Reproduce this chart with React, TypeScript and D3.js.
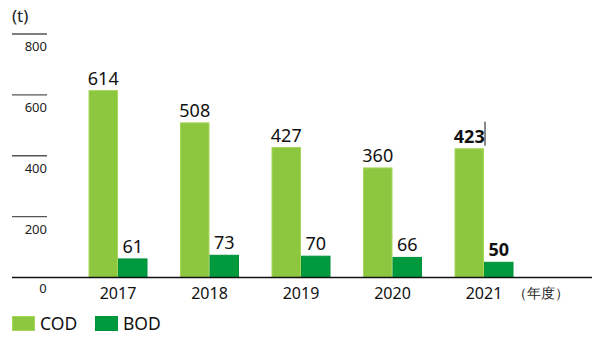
import React from "react";
import * as d3 from "d3";

const years = ["2017", "2018", "2019", "2020", "2021"];
const cod = [614, 508, 427, 360, 423];
const bod = [61, 73, 70, 66, 50];
const series = ["COD", "BOD"];
const yTicks = [200, 400, 600, 800];
const colors = { COD: "#8dc63f", BOD: "#009a3e" };
const strokes = { COD: "#a6d65a", BOD: "#00913a" };

export default function App() {
  const W = 600, H = 360;
  const y = d3.scaleLinear().domain([0, 800]).range([277.5, 34]);
  const x0 = d3.scalePoint<string>().domain(years).range([118, 484]);
  const x1 = d3.scaleBand<string>().domain(series).range([-29.5, 29.5]);
  const font = "'Noto Sans', 'Open Sans', sans-serif";
  const vals: Record<string, number[]> = { COD: cod, BOD: bod };
  const lastIdx = years.length - 1;
  return (
    <svg width={W} height={H} style={{ position: "fixed", left: 0, top: 0, background: "#fff" }} fontFamily={font}>
      <text x={12} y={22} fontSize={17} fill="#222">(t)</text>
      {yTicks.map((t) => (
        <g key={t}>
          <line x1={12} x2={47} y1={y(t)} y2={y(t)} stroke="#555" strokeWidth={1.3} />
          <text x={47} y={y(t) + 17} fontSize={13} textAnchor="end" fill="#222">{t}</text>
        </g>
      ))}
      <text x={43} y={293} fontSize={13} textAnchor="middle" fill="#222">0</text>
      {series.map((s) =>
        years.map((yr, i) => {
          const v = vals[s][i];
          const bx = (x0(yr) as number) + (x1(s) as number);
          const bw = x1.bandwidth();
          const bold = i === lastIdx;
          return (
            <g key={s + yr}>
              <rect x={bx + 0.5} y={y(v)} width={bw - 1} height={y(0) - y(v)} fill={colors[s as "COD"]} stroke={strokes[s as "COD"]} strokeWidth={1} />
              <text x={bx + bw / 2} y={y(v) - 6} fontSize={18} textAnchor="middle" fontWeight={bold ? 700 : 400} fill="#111">{v}</text>
            </g>
          );
        })
      )}
      <line x1={485} x2={485} y1={y(423) - 27} y2={y(423) - 3} stroke="#111" strokeWidth={1} />
      <line x1={12} x2={592} y1={277.5} y2={277.5} stroke="#111" strokeWidth={1.5} />
      {years.map((yr) => (
        <text key={yr} x={x0(yr) as number} y={299} fontSize={16} textAnchor="middle" fill="#111">{yr}</text>
      ))}
      <text x={513} y={298} fontSize={14} fill="#222">（年度）</text>
      {series.map((s, i) => (
        <g key={s} transform={`translate(${12 + i * 83},316)`}>
          <rect x={0.5} y={0.5} width={22} height={14} fill={colors[s as "COD"]} stroke={strokes[s as "COD"]} strokeWidth={1} />
          <text x={28} y={14} fontSize={17.5} fill="#111">{s}</text>
        </g>
      ))}
    </svg>
  );
}
